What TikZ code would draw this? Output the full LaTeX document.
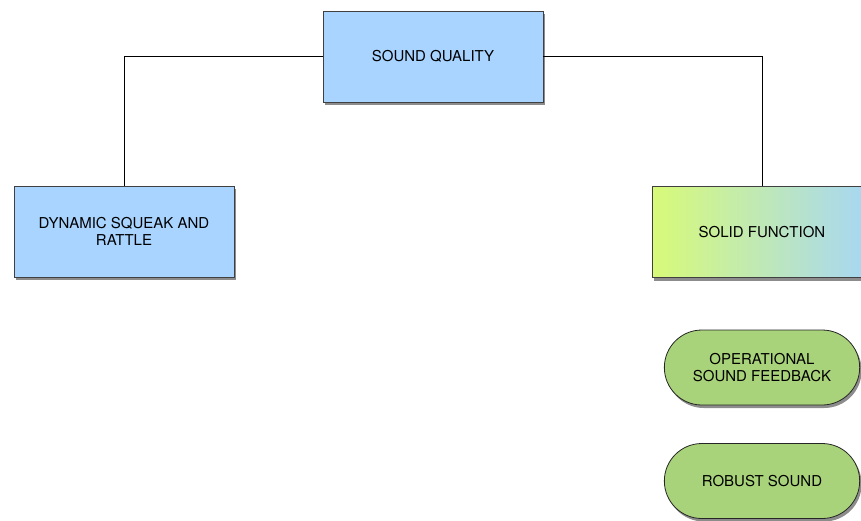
\documentclass[tikz,border=0pt]{standalone}
\usepackage{fontspec}
\setmainfont{TeX Gyre Heros}
\usetikzlibrary{shadows,shapes.misc}
\definecolor{boxblue}{RGB}{168,212,255}
\definecolor{pillgreen}{RGB}{169,211,122}
\definecolor{gradleft}{RGB}{216,250,120}
\definecolor{gradright}{RGB}{166,214,246}
\tikzset{
  shade/.style={drop shadow={shadow xshift=2pt,shadow yshift=-3pt,opacity=.45,fill=black}},
  box/.style={draw=black!75,line width=0.8pt,minimum width=220pt,minimum height=91pt,
    align=center,font=\fontsize{15}{17}\selectfont,shade},
  pill/.style={draw=black!85,line width=0.8pt,rounded rectangle,fill=pillgreen,
    minimum width=202pt,minimum height=75pt,align=center,
    font=\fontsize{15}{17.5}\selectfont,shade}
}
\begin{document}
\begin{tikzpicture}[x=1pt,y=-1pt]
        \useasboundingbox (0,0) rectangle (861,520);
        \path (433,56.5)  node[box,fill=boxblue] (SQ)  {SOUND QUALITY}
              (124,231.5) node[box,fill=boxblue] (DSR) {DYNAMIC SQUEAK AND\\RATTLE}
              (762,232)   node[box,left color=gradleft,right color=gradright] (SF) {SOLID FUNCTION}
              (762,367.5) node[pill] (OSF) {OPERATIONAL\\SOUND FEEDBACK}
              (762,481)   node[pill] (RS)  {ROBUST SOUND};
        \draw[line width=0.7pt] (SQ.west) -| (DSR.north);
        \draw[line width=0.7pt] (SQ.east) -| (SF.north);
      \end{tikzpicture}
\end{document}
